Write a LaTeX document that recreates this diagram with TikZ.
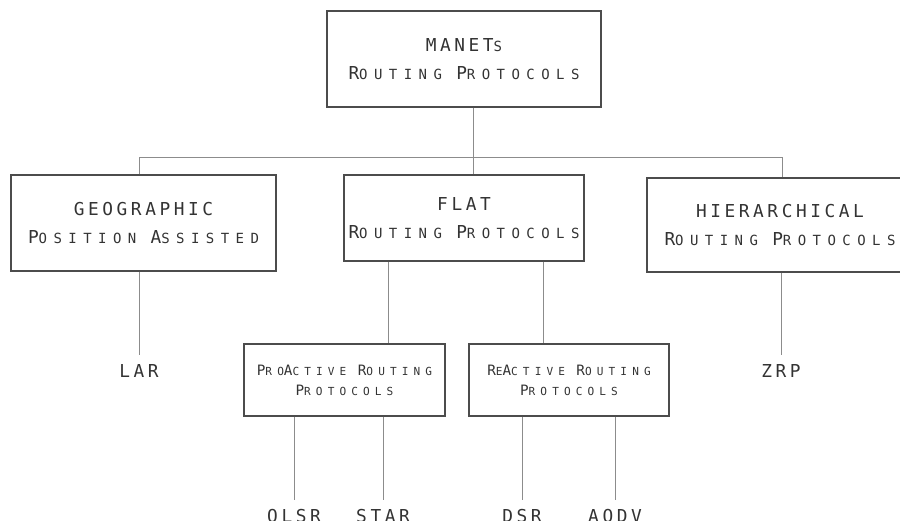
\documentclass[tikz,border=0pt]{standalone}
\usepackage{fontspec}
\newfontfamily\capfont[LetterSpace=20]{DejaVu Sans Mono}
\newfontfamily\lowfont[LetterSpace=46]{DejaVu Sans Mono}
\newcommand\lcsize{14pt}
\newcommand\lc[1]{{\lowfont\fontsize{\lcsize}{\lcsize}\selectfont #1}}

\begin{document}
\begin{tikzpicture}[x=1pt, y=-1pt,
    box/.style={draw=black!70, line width=1.4pt, text=black!80, align=center, inner sep=0pt,
      font={\capfont\fontsize{17.8}{28}\selectfont}},
    subbox/.style={box, font={\capfont\fontsize{14.3}{20}\selectfont\renewcommand\lcsize{11.1pt}}},
    leaf/.style={anchor=north, text=black!80, inner xsep=0pt, inner ysep=9pt,
      font={\capfont\fontsize{17.8}{28}\selectfont}},
    link/.style={draw=black!45, line width=0.9pt}]
  \useasboundingbox (0,0) rectangle (900,521);

  % boxes
  \node[box, minimum width=274pt, minimum height=96pt] (root) at (464,59) {MANET\lc{S}\\R\lc{OUTING} P\lc{ROTOCOLS}};
  \node[box, minimum width=265pt, minimum height=96pt] (geo) at (143.5,223) {GEOGRAPHIC\\P\lc{OSITION} A\lc{SSISTED}};
  \node[box, minimum width=240pt, minimum height=86pt] (flat) at (464,218) {FLAT\\R\lc{OUTING} P\lc{ROTOCOLS}};
  \node[box, minimum width=266pt, minimum height=94pt] (hier) at (780,225) {HIERARCHICAL\\R\lc{OUTING} P\lc{ROTOCOLS}};
  \node[subbox, minimum width=201pt, minimum height=72pt] (pro) at (344.5,380) {P\lc{RO}A\lc{CTIVE} R\lc{OUTING}\\P\lc{ROTOCOLS}};
  \node[subbox, minimum width=200pt, minimum height=72pt] (re) at (569,380) {R\lc{E}A\lc{CTIVE} R\lc{OUTING}\\P\lc{ROTOCOLS}};

  % protocols
  \node[leaf] (lar) at (139,355) {LAR};
  \node[leaf] (zrp) at (781,355) {ZRP};
  \node[leaf] (olsr) at (294,500) {OLSR};
  \node[leaf] (star) at (383,500) {STAR};
  \node[leaf] (dsr) at (522,500) {DSR};
  \node[leaf] (aodv) at (615,500) {AODV};

  % tree lines
  \draw[link] ([xshift=9pt]root.south) -- ([xshift=9pt]flat.north);
  \draw[link] ([xshift=-4.5pt]geo.north) -- ++(0,-17) -| ([xshift=2pt]hier.north);
  \draw[link] (geo.south -| lar.north) -- (lar.north);
  \draw[link] (hier.south -| zrp.north) -- (zrp.north);
  \draw[link] ([xshift=-76pt]flat.south) -- ([xshift=43.5pt]pro.north);
  \draw[link] ([xshift=79pt]flat.south) -- ([xshift=-26pt]re.north);
  \foreach \leaf in {olsr,star}
    \draw[link] (pro.south -| \leaf.north) -- (\leaf.north);
  \foreach \leaf in {dsr,aodv}
    \draw[link] (re.south -| \leaf.north) -- (\leaf.north);
\end{tikzpicture}
\end{document}
